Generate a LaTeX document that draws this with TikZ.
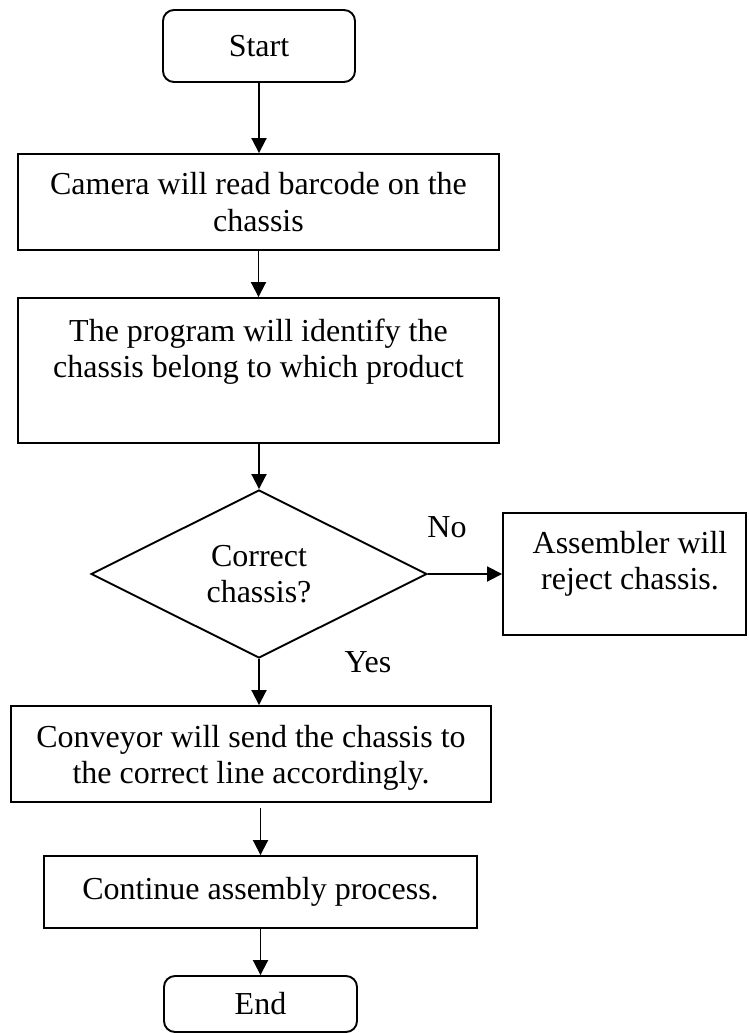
\documentclass[tikz,border=0pt]{standalone}
\usepackage{fontspec}
\setmainfont{Liberation Serif}
\usetikzlibrary{shapes.geometric,arrows.meta}
\begin{document}
\begin{tikzpicture}[x=1pt,y=-1pt,
  every node/.style={font=\fontsize{32}{36.5}\selectfont, align=center, inner sep=0pt},
  box/.style={draw, line width=1.9pt, rectangle},
  term/.style={box, rounded corners=11pt},
  dec/.style={draw, line width=1.9pt, diamond, shape aspect=2},
  conn/.style={line width=1.9pt, -{Triangle[length=15pt,width=15pt]}},
  lbl/.style={}
]
\useasboundingbox (0,0) rectangle (748,1033);
\node[term, minimum width=192pt, minimum height=72pt] (start) at (259,46) {Start};
\node[box, minimum width=481pt, minimum height=96pt] (b1) at (258.5,202) {Camera will read barcode on the\\chassis};
\node[box, minimum width=481pt, minimum height=145pt] (b2) at (258.5,370.5) {The program will identify the\\chassis belong to which product\rule[-45pt]{0pt}{45pt}};
\node[dec, minimum width=336pt, minimum height=168pt] (d) at (259,574) {Correct\\chassis?};
\node[box, minimum width=243pt, minimum height=122pt] (rej) at (624.5,574) {\hspace*{11pt}Assembler will\\\hspace*{11pt}reject chassis.\rule[-27pt]{0pt}{27pt}};
\node[box, minimum width=480pt, minimum height=96pt] (b4) at (251,754) {\rule{0pt}{30pt}Conveyor will send the chassis to\\the correct line accordingly.};
\node[box, minimum width=433pt, minimum height=72pt] (b5) at (260.5,892) {Continue assembly process.};
\node[term, minimum width=193pt, minimum height=56pt] (end) at (260.5,1004) {End};
\node[lbl] (no) at (447,527) {No};
\node[lbl] (yes) at (368,662) {Yes};
\draw[conn] (start.south) -- (start.south |- b1.north);
\draw[conn] (b1) -- (b2);
\draw[conn] (b2.south -| d.north) -- (d.north);
\draw[conn] (d.east) -- (rej.west);
\draw[conn] (d.south) -- (d.south |- b4.north);
\draw[conn, shorten <=5pt] (b5.north |- b4.south) -- (b5.north);
\draw[conn] (b5) -- (end);
\end{tikzpicture}
\end{document}
